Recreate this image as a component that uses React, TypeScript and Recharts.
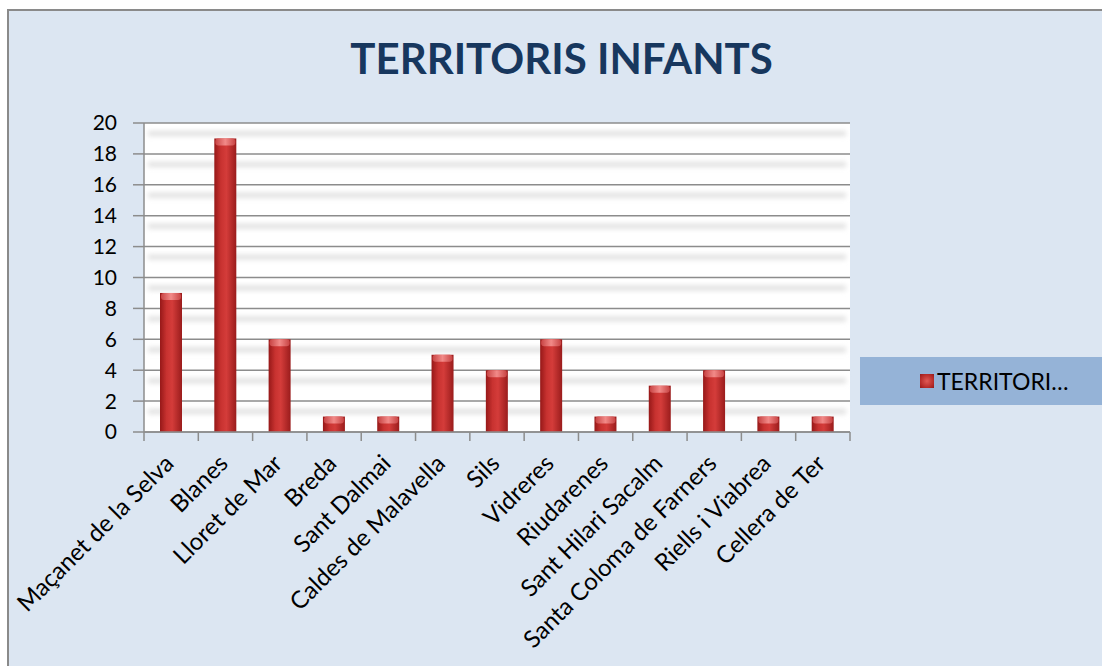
import React from 'react';
import {BarChart, Bar, XAxis, YAxis, CartesianGrid, Legend} from 'recharts';

const municipis = [
    'Maçanet de la Selva', 'Blanes', 'Lloret de Mar', 'Breda', 'Sant Dalmai',
    'Caldes de Malavella', 'Sils', 'Vidreres', 'Riudarenes', 'Sant Hilari Sacalm',
    'Santa Coloma de Farners', 'Riells i Viabrea', 'Cellera de Ter'
];
const infants = [9, 19, 6, 1, 1, 5, 4, 6, 1, 3, 4, 1, 1];
const yTicks = [0, 2, 4, 6, 8, 10, 12, 14, 16, 18, 20];
const seriesName = 'TERRITORIS INFANTS';

const data = municipis.map((m, i) => ({name: m, value: infants[i]}));

const FONT = 'Lato, "Open Sans", sans-serif';
const AXIS_GRAY = '#8C8C8C';

const BarShape = (props: any) => {
    const {x, y, width, height} = props;
    if (!height || height <= 0) return null;
    const cap = Math.min(7, height);
    return (
        <g>
            <rect x={x} y={y} width={width} height={height} fill="url(#barGrad)" />
            <rect x={x + 1} y={y} width={width - 2} height={cap} rx={3} fill="url(#capGrad)" />
        </g>
    );
};

const XTick = (props: any) => {
    const {x, y, payload, index, width, visibleTicksCount} = props;
    const half = width / visibleTicksCount / 2;
    const last = index === visibleTicksCount - 1;
    const ax = x + 4;
    const ay = y + 33;
    return (
        <g>
            <line x1={x - half} y1={y} x2={x - half} y2={y + 9} stroke={AXIS_GRAY} strokeWidth={1.5} />
            {last && <line x1={x + half} y1={y} x2={x + half} y2={y + 9} stroke={AXIS_GRAY} strokeWidth={1.5} />}
            <text
                x={ax}
                y={ay}
                transform={`rotate(-45, ${ax}, ${ay})`}
                textAnchor="end"
                fontFamily={FONT}
                fontSize={24}
                fill="#000"
            >
                {payload.value}
            </text>
        </g>
    );
};

const GridLine = (props: any) => {
    const {x1, y1, x2, index} = props;
    return (
        <g key={`h-${index}-${y1}`}>
            {index !== 0 && (
                <rect x={x1 + 4} y={y1 + 8} width={x2 - x1 - 8} height={5} fill="#e0e0e0" filter="url(#blur)" />
            )}
            <line x1={x1} y1={y1} x2={x2} y2={y1} stroke={AXIS_GRAY} strokeWidth={1.5} />
        </g>
    );
};

const LegendBox = () => (
    <div
        style={{
            width: 250,
            height: 48,
            background: '#95B3D7',
            display: 'flex',
            alignItems: 'center',
            paddingLeft: 60,
            boxSizing: 'border-box',
            fontFamily: FONT,
            fontSize: 23,
            color: '#000',
        }}
    >
        <span
            style={{
                display: 'inline-block',
                width: 14,
                height: 14,
                marginRight: 3,
                background: 'radial-gradient(circle, #E05A55 0%, #B42A28 70%, #8E1C1C 100%)',
            }}
        />
        {seriesName.slice(0, 9)}…
    </div>
);

export default function App() {
    return (
        <div
            style={{
                position: 'fixed',
                left: 7,
                top: 9,
                width: 1095,
                height: 657,
                borderLeft: '2px solid #8a8a8a',
                borderTop: '2px solid #8a8a8a',
                background: '#DCE6F2',
                boxSizing: 'border-box',
                overflow: 'hidden',
            }}
        >
            <div
                style={{
                    position: 'absolute',
                    left: 0,
                    top: 26,
                    width: 1105,
                    textAlign: 'center',
                    fontFamily: FONT,
                    fontWeight: 700,
                    fontSize: 42,
                    lineHeight: 1,
                    color: '#17375E',
                    zIndex: 2,
                }}
            >
                {seriesName}
            </div>
            <BarChart
                width={1093}
                height={655}
                data={data}
                margin={{top: 112, right: 252, left: 75, bottom: 34}}
                barSize={22}
            >
                <defs>
                    <linearGradient id="barGrad" x1="0" y1="0" x2="1" y2="0">
                        <stop offset="0%" stopColor="#961818" />
                        <stop offset="30%" stopColor="#C83230" />
                        <stop offset="55%" stopColor="#D43C3A" />
                        <stop offset="100%" stopColor="#9A1C1C" />
                    </linearGradient>
                    <linearGradient id="capGrad" x1="0" y1="0" x2="1" y2="0">
                        <stop offset="0%" stopColor="#C84444" />
                        <stop offset="50%" stopColor="#F28A88" />
                        <stop offset="100%" stopColor="#C84444" />
                    </linearGradient>
                    <filter id="blur" x="-5%" y="-150%" width="110%" height="400%">
                        <feGaussianBlur stdDeviation="2.5" />
                    </filter>
                </defs>
                <CartesianGrid vertical={false} fill="#ffffff" fillOpacity={1} horizontal={GridLine} />
                <XAxis
                    dataKey="name"
                    interval={0}
                    axisLine={{stroke: AXIS_GRAY, strokeWidth: 1.5}}
                    tickLine={false}
                    tickSize={0}
                    tickMargin={0}
                    height={200}
                    tick={<XTick />}
                />
                <YAxis
                    domain={[0, 20]}
                    ticks={yTicks}
                    interval={0}
                    width={60}
                    axisLine={{stroke: AXIS_GRAY, strokeWidth: 1.5}}
                    tickLine={{stroke: AXIS_GRAY, strokeWidth: 1.5}}
                    tickSize={11}
                    tickMargin={16}
                    tick={{fontFamily: FONT, fontSize: 21, fill: '#000'}}
                />
                <Legend
                    layout="vertical"
                    align="center"
                    verticalAlign="middle"
                    wrapperStyle={{left: 851, top: 346, width: 250}}
                    content={<LegendBox />}
                />
                <Bar
                    dataKey="value"
                    name={seriesName}
                    fill="#C0302F"
                    shape={<BarShape />}
                    isAnimationActive={false}
                />
            </BarChart>
        </div>
    );
}
